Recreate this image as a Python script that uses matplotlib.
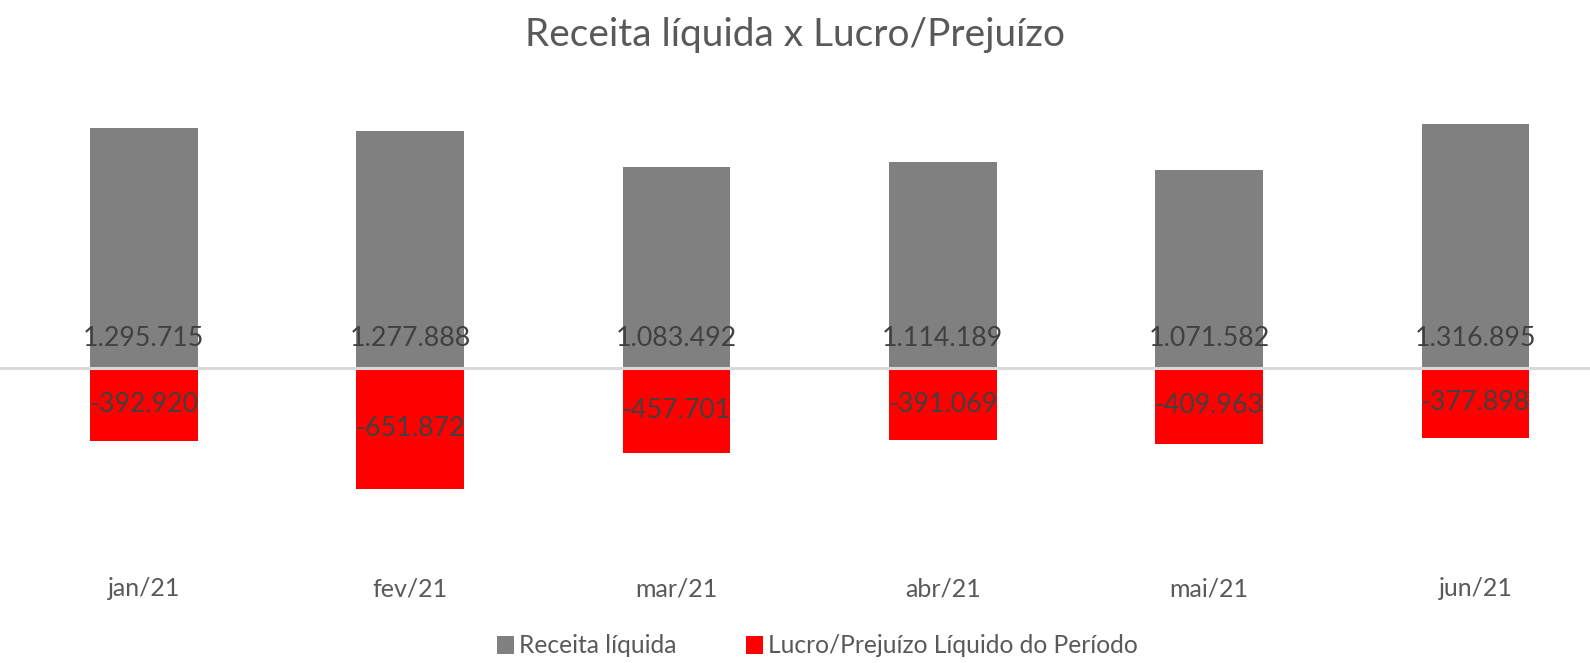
import matplotlib.pyplot as plt

plt.rcParams['font.family'] = ['Lato', 'DejaVu Sans']

meses = ["jan/21", "fev/21", "mar/21", "abr/21", "mai/21", "jun/21"]
receita = [1295715, 1277888, 1083492, 1114189, 1071582, 1316895]
lucro = [-392920, -651872, -457701, -391069, -409963, -377898]

CINZA = "#808080"
VERMELHO = "#ff0000"
TEXTO = "#595959"


def fmt(v):
    return f"{v:,}".replace(",", ".")


fig = plt.figure(figsize=(15.9, 6.63), dpi=100)
ax = fig.add_axes([0, 1 - 540 / 663, 1, (540 - 80) / 663])

x = range(len(meses))
ax.bar(x, receita, width=0.405, color=CINZA, lw=0, zorder=2, label="Receita líquida")
ax.bar(x, lucro, width=0.405, color=VERMELHO, lw=0, zorder=2,
       label="Lucro/Prejuízo Líquido do Período")
ax.axhline(0, color="#d9d9d9", lw=2.2, zorder=3)

for i in x:
    ax.annotate(fmt(receita[i]), (i, 0), xytext=(0, 21), textcoords="offset points",
                ha="center", va="center", fontsize=19.3, color="#404040", zorder=4)
    ax.text(i, lucro[i] / 2, fmt(lucro[i]), ha="center", va="center",
            fontsize=19.3, color="#404040", zorder=4)

ax.set_xlim(-0.54, 5.43)
ax.set_ylim(-929000, 1555000)
ax.set_xticks(list(x))
ax.set_xticklabels(meses, fontsize=18, color=TEXTO)
ax.tick_params(axis="x", length=0, pad=27)
ax.set_yticks([])
for s in ax.spines.values():
    s.set_visible(False)

fig.suptitle("Receita líquida x Lucro/Prejuízo", fontsize=28, color=TEXTO, y=0.975)
leg = fig.legend(loc="lower center", ncol=2, frameon=False, fontsize=17.7,
                 bbox_to_anchor=(0.514, -0.025), handlelength=0.7, handleheight=0.75,
                 handletextpad=0.2, columnspacing=2.8)
for t in leg.get_texts():
    t.set_color(TEXTO)

fig.savefig("out.png", dpi=100)
